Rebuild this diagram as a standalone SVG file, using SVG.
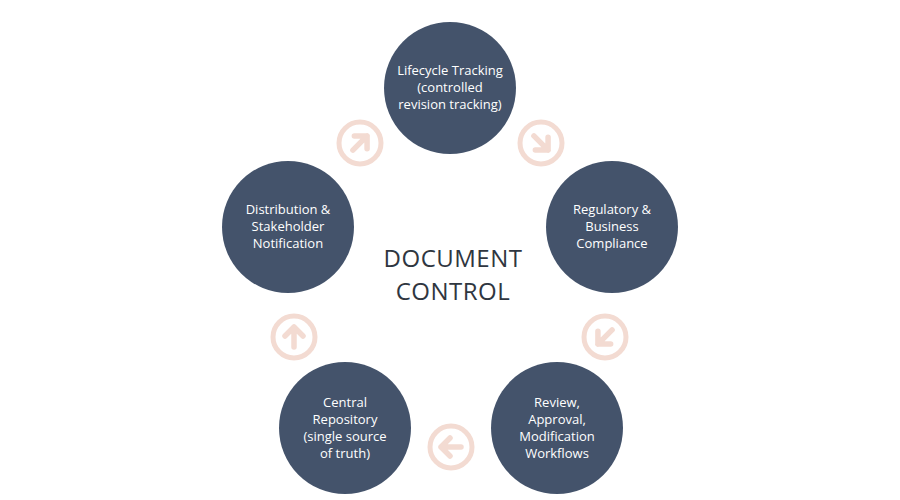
<svg xmlns="http://www.w3.org/2000/svg" width="900" height="500" viewBox="0 0 900 500">
<style>
.n{fill:#44536b}
.t{font-family:"Open Sans","Liberation Sans",sans-serif;font-size:13px;fill:#ffffff;text-anchor:middle}
.c{font-family:"Open Sans","Liberation Sans",sans-serif;font-size:24px;fill:#2f3640;text-anchor:middle;letter-spacing:0.5px}
</style>
<defs>
<g id="arr" fill="none" stroke="#f3dbd2" stroke-linecap="round" stroke-linejoin="round"><circle r="21" stroke-width="5"/><path d="M-10 0H10M1-9L10 0L1 9" stroke-width="5.5"/></g>
</defs>
<rect width="900" height="500" fill="#fff"/>
<g id="connectors">
<use href="#arr" transform="translate(360,143) rotate(-45)"/>
<use href="#arr" transform="translate(541,143) rotate(45)"/>
<use href="#arr" transform="translate(605,337) rotate(135)"/>
<use href="#arr" transform="translate(451,447) rotate(180)"/>
<use href="#arr" transform="translate(294,337) rotate(-90)"/>
</g>
<g id="center"><text class="c" x="453" y="267">DOCUMENT</text><text class="c" x="453" y="300">CONTROL</text></g>
<g id="n1"><circle class="n" cx="450" cy="88" r="66"/><text class="t" x="450" y="75">Lifecycle Tracking</text><text class="t" x="450" y="92">(controlled</text><text class="t" x="450" y="109">revision tracking)</text></g>
<g id="n2"><circle class="n" cx="612" cy="227" r="66"/><text class="t" x="612" y="214">Regulatory &amp;</text><text class="t" x="612" y="231">Business</text><text class="t" x="612" y="248">Compliance</text></g>
<g id="n3"><circle class="n" cx="557" cy="428" r="66"/><text class="t" x="557" y="407">Review,</text><text class="t" x="557" y="424">Approval,</text><text class="t" x="557" y="441">Modification</text><text class="t" x="557" y="458">Workflows</text></g>
<g id="n4"><circle class="n" cx="345" cy="428" r="66"/><text class="t" x="345" y="407">Central</text><text class="t" x="345" y="424">Repository</text><text class="t" x="345" y="441">(single source</text><text class="t" x="345" y="458">of truth)</text></g>
<g id="n5"><circle class="n" cx="288" cy="227" r="66"/><text class="t" x="288" y="214">Distribution &amp;</text><text class="t" x="288" y="231">Stakeholder</text><text class="t" x="288" y="248">Notification</text></g>
</svg>
